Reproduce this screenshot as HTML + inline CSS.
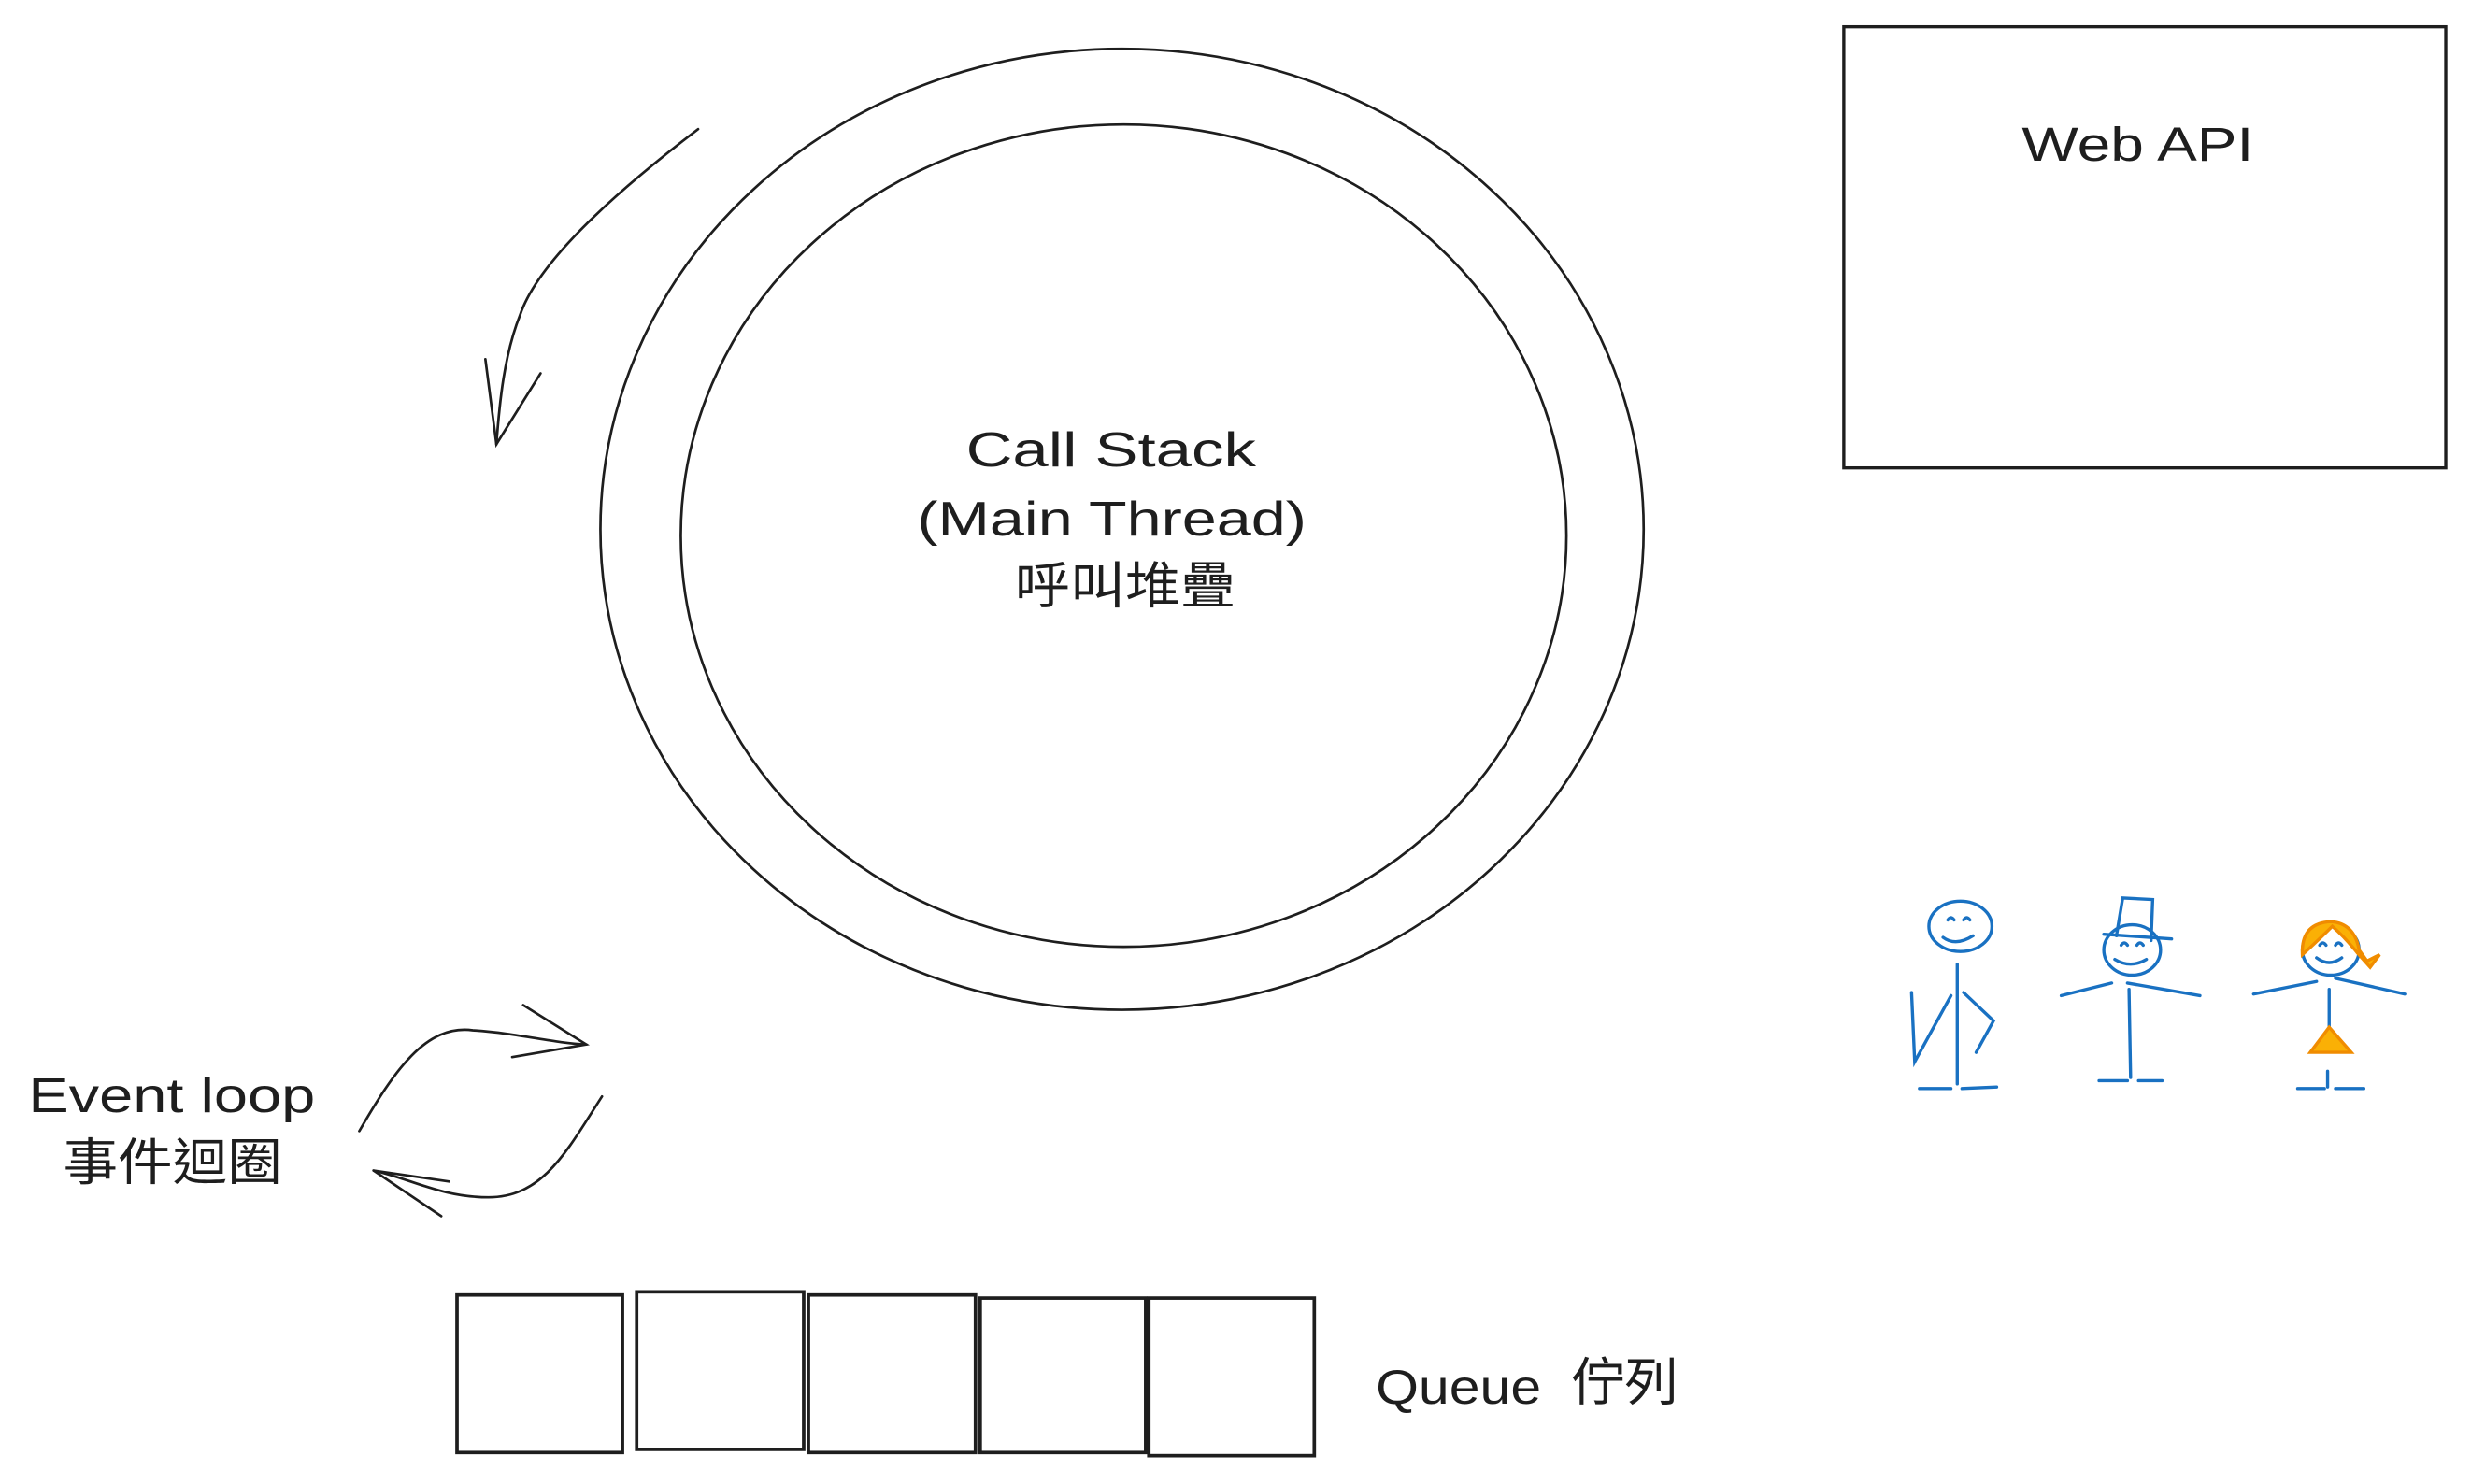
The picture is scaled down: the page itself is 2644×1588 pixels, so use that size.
<!DOCTYPE html>
<html><head><meta charset="utf-8"><style>
html,body{margin:0;padding:0;background:#fff;}
svg{display:block;}
text{font-family:"Liberation Sans","Noto Sans CJK TC",sans-serif;fill:#1e1e1e;}
</style></head><body>
<svg width="2644" height="1588" viewBox="0 0 1568 942" preserveAspectRatio="none">
<g fill="none" stroke="#1e1e1e" stroke-width="1.6" stroke-linecap="round">
<ellipse cx="712" cy="336" rx="331" ry="305"/>
<ellipse cx="713" cy="340" rx="281" ry="261"/>
<g>
<path d="M443 82 C380 130 340 170 330 200 C320 225 317 255 315 282"/>
<path d="M308 228 L315 282 L343 237"/>
</g>
<rect x="1170" y="17" width="382" height="280" stroke-width="2"/>
<g>
<path d="M228 718 C250 680 270 650 300 654 C330 656 350 662 372 663"/>
<path d="M332 638 L372 663 L325 671"/>
</g>
<g>
<path d="M382 696 C360 730 345 760 310 760 C280 760 260 748 237 743"/>
<path d="M280 772 L237 743 L285 750"/>
</g>
<g stroke-width="2.2">
<rect x="290" y="822" width="105" height="100"/>
<rect x="404" y="820" width="106" height="100"/>
<rect x="513" y="822" width="106" height="100"/>
<rect x="622" y="824" width="105" height="98"/>
<rect x="729" y="824" width="105" height="100"/>
</g>
</g>
<text x="613" y="296" font-size="31" textLength="184" lengthAdjust="spacingAndGlyphs">Call Stack</text>
<text x="582" y="340" font-size="31" textLength="247" lengthAdjust="spacingAndGlyphs">(Main Thread)</text>
<text x="644" y="383" font-size="32" textLength="140" lengthAdjust="spacingAndGlyphs">呼叫堆疊</text>
<text x="1283" y="102" font-size="30" textLength="147" lengthAdjust="spacingAndGlyphs">Web API</text>
<text x="18" y="706" font-size="31" textLength="182" lengthAdjust="spacingAndGlyphs">Event loop</text>
<text x="40" y="749" font-size="32" textLength="139" lengthAdjust="spacingAndGlyphs">事件迴圈</text>
<text x="873" y="891" font-size="31" textLength="105" lengthAdjust="spacingAndGlyphs">Queue</text>
<text x="997" y="889" font-size="33" textLength="68" lengthAdjust="spacingAndGlyphs">佇列</text>
<g fill="none" stroke="#1971c2" stroke-width="2" stroke-linecap="round">
<g>
<ellipse cx="1244" cy="588" rx="20" ry="16"/>
<path d="M1236 584 q2 -3 4 0 M1246 584 q2 -3 4 0 M1233 595 q8 6 19 -1"/>
<path d="M1242 612 L1242 688 M1213 630 L1215 674 L1238 632 M1246 630 L1265 648 L1254 668"/>
<path d="M1218 691 L1238 691 M1245 691 L1267 690"/>
</g>
<g>
<ellipse cx="1353" cy="603" rx="18" ry="16"/>
<path d="M1346 600 q2 -3 4 0 M1356 600 q2 -3 4 0 M1342 609 q10 6 20 0"/>
<path d="M1335 593 L1378 596 M1343 594 L1347 570 L1366 571 L1365 597"/>
<path d="M1308 632 L1340 624 M1350 624 L1396 632 M1351 628 L1352 684 M1332 686 L1350 686 M1357 686 L1372 686"/>
</g>
<g>
<ellipse cx="1479" cy="603" rx="18" ry="16"/>
<path d="M1472 600 q2 -3 4 0 M1482 600 q2 -3 4 0 M1470 608 q8 6 16 0"/>
<path d="M1430 631 L1470 623 M1482 621 L1526 631 M1478 628 L1478 655 M1477 680 L1477 690 M1458 691 L1475 691 M1482 691 L1500 691"/>
<path d="M1478 652 L1466 668 L1492 668 Z" fill="#fab005" stroke="#f08c00"/>
<path d="M1461 606 Q1460 586 1479 585 Q1494 586 1497 603 L1502 610 L1510 606 L1504 614 L1496 605 Q1488 595 1480 588 Q1472 596 1461 606 Z" fill="#fab005" stroke="#f08c00"/>
</g>
</g>
</svg>
</body></html>
